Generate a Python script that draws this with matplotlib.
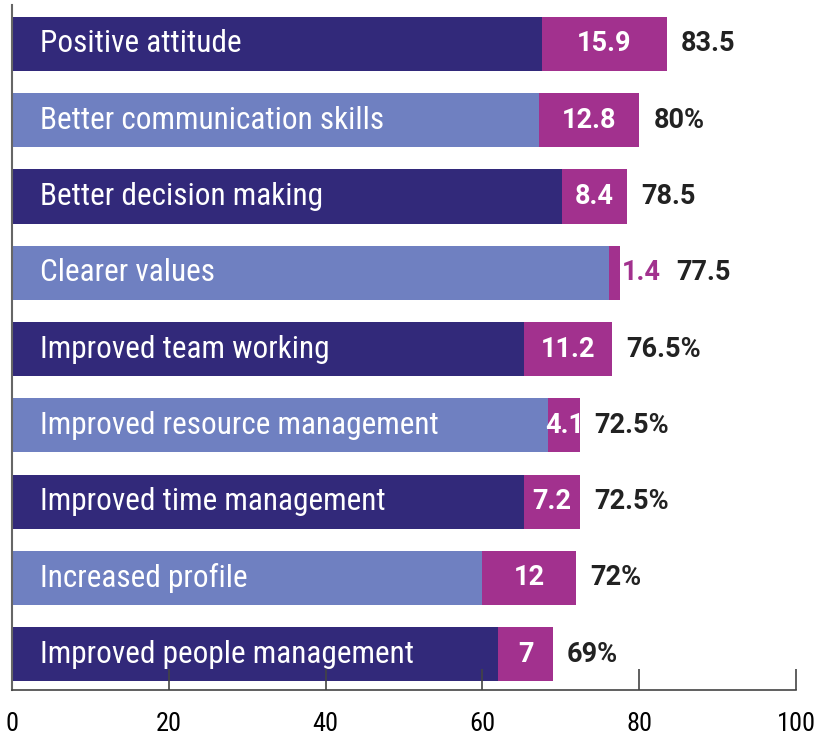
import numpy as np
from matplotlib import pyplot as plt
from matplotlib import font_manager

labels = ["Positive attitude", "Better communication skills", "Better decision making",
          "Clearer values", "Improved team working", "Improved resource management",
          "Improved time management", "Increased profile", "Improved people management"]
extra = [15.9, 12.8, 8.4, 1.4, 11.2, 4.1, 7.2, 12, 7]
total = [83.5, 80, 78.5, 77.5, 76.5, 72.5, 72.5, 72, 69]
total_txt = ["83.5", "80%", "78.5", "77.5", "76.5%", "72.5%", "72.5%", "72%", "69%"]

dark = "#32297a"
light = "#6f80c1"
pink = "#a2318e"
narrow = ["Roboto Condensed", "DejaVu Sans"]

# normal-width bold Roboto for the numbers
num_font = font_manager.FontProperties(family="Roboto", weight="bold")
for f in font_manager.fontManager.ttflist:
    if f.name == "Roboto" and f.weight == 700 and "ondensed" not in f.fname and "Italic" not in f.fname:
        num_font = font_manager.FontProperties(fname=f.fname)
        break

base = np.array(total) - np.array(extra)
y = np.arange(len(labels))

fig = plt.figure(figsize=(8.16, 7.36), dpi=100)
ax = fig.add_axes([12/816, 1-690/736, 784/816, 685/736])

cols = [dark if i % 2 == 0 else light for i in y]
ax.barh(y, base, height=0.71, color=cols)
ax.barh(y, extra, left=base, height=0.71, color=pink)

for i in y:
    ax.text(3.6, i, labels[i], color="white", fontsize=22.5, family=narrow,
            va="center", ha="left")
    if extra[i] < 3:
        ax.text(total[i] + 0.25, i, f"{extra[i]:g}", color=pink, fontproperties=num_font,
                fontsize=19.5, va="center", ha="left")
    else:
        ax.text(base[i] + extra[i] / 2, i, f"{extra[i]:g}", color="white", fontproperties=num_font,
                fontsize=19.5, va="center", ha="center")
    off = 7.2 if extra[i] < 3 else 1.8
    ax.text(total[i] + off, i, total_txt[i], color="#222222", fontproperties=num_font,
            fontsize=19.5, va="center", ha="left")

ax.set_xlim(0, 100)
ax.set_ylim(8.47, -0.51)
ax.set_xticks([0, 20, 40, 60, 80, 100])
ax.set_yticks([])
ax.tick_params(axis="x", direction="in", length=15, width=1.2, color="#444444", pad=16,
               labelsize=19)
for t in ax.get_xticklabels():
    t.set_family(narrow)
for s in ["top", "right"]:
    ax.spines[s].set_visible(False)
ax.spines["left"].set_color("#666666")
ax.spines["left"].set_linewidth(1.5)
ax.spines["bottom"].set_color("#444444")
ax.spines["bottom"].set_linewidth(1.2)

fig.savefig("out.png", dpi=100)
